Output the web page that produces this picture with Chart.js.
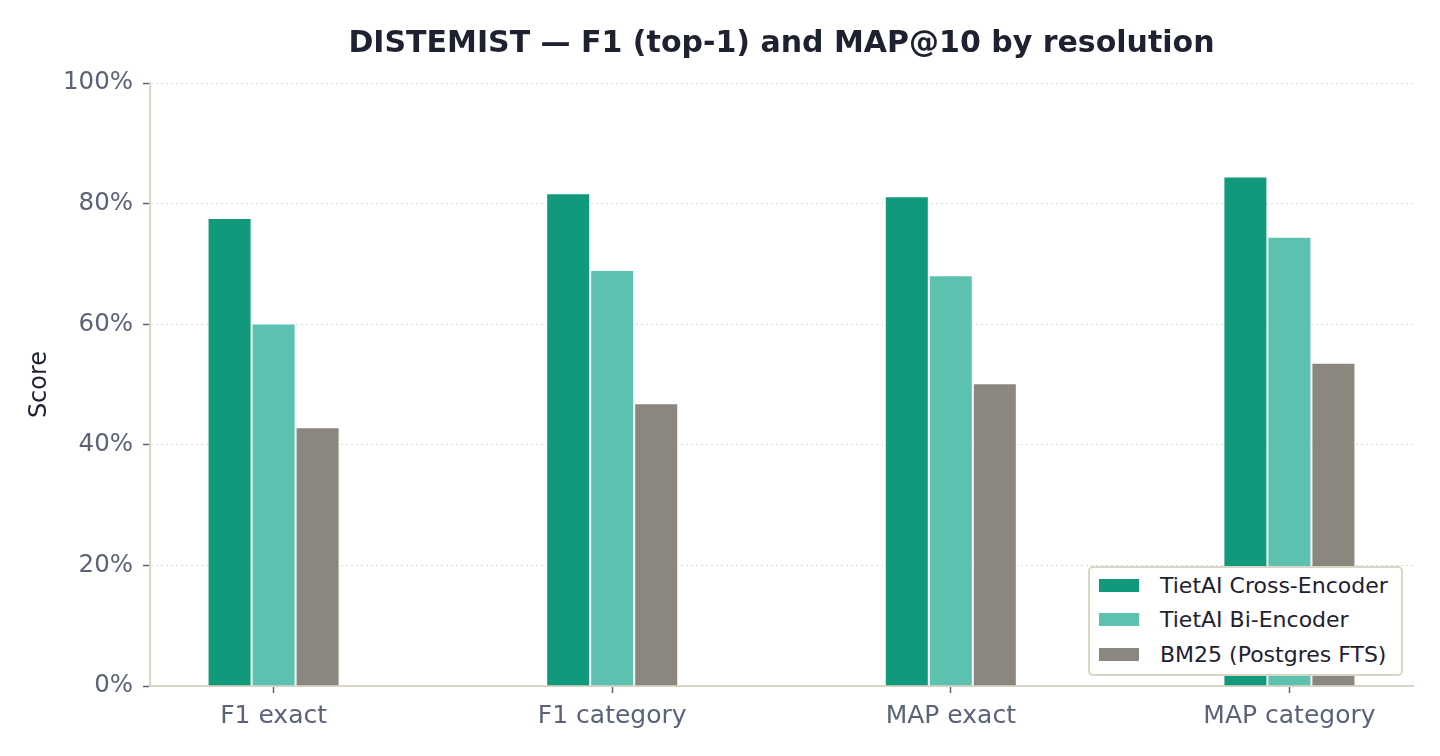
<!DOCTYPE html>
<html>
<head>
<meta charset="utf-8">
<script src="https://cdn.jsdelivr.net/npm/chart.js@4"></script>
<style>
  body { margin: 0; background: #fff; }
  #wrap { position: relative; width: 1440px; height: 756px; }
  #legend {
    position: absolute; left: 1088px; top: 566px; width: 315px; height: 110px;
    border: 2px solid #d9d6c6; border-radius: 5px; background: #fff;
    font-family: 'DejaVu Sans'; font-size: 22px; color: #1e2130;
    box-sizing: border-box; padding-top: 0px;
  }
  #legend .row { display: flex; align-items: center; height: 34.5px; }
  #legend .sw { width: 42px; height: 15px; margin-left: 8px; margin-right: 20px; box-sizing: border-box; border: 1px solid #fff; }
</style>
</head>
<body>
<div id="wrap">
  <canvas id="chart"></canvas>
  <div id="legend"></div>
</div>
<script>
const categories = ['F1 exact', 'F1 category', 'MAP exact', 'MAP category'];
const seriesNames = ['TietAI Cross-Encoder', 'TietAI Bi-Encoder', 'BM25 (Postgres FTS)'];
const crossEncoder = [77.6, 81.7, 81.2, 84.5];
const biEncoder = [60.1, 69.0, 68.1, 74.5];
const bm25 = [42.9, 46.9, 50.2, 53.6];
const yTicks = [0, 20, 40, 60, 80, 100];
const colors = ['#10997a', '#5cc1ae', '#8b867e'];

Chart.defaults.font.family = 'DejaVu Sans';

const toPoints = arr => arr.map((v, i) => ({ x: i, y: v }));
const allSeries = [crossEncoder, biEncoder, bm25];

const ctx = document.getElementById('chart');
new Chart(ctx, {
  type: 'bar',
  data: {
    datasets: allSeries.map((s, i) => ({
      label: seriesNames[i],
      data: toPoints(s),
      backgroundColor: colors[i],
      borderColor: '#ffffff',
      borderWidth: 1,
      categoryPercentage: 0.39,
      barPercentage: 1
    }))
  },
  options: {
    responsive: true,
    maintainAspectRatio: false,
    animation: false,
    layout: { padding: { top: 0, right: 27, left: 25, bottom: 0 } },
    plugins: {
      legend: { display: false },
      tooltip: { enabled: false },
      title: {
        display: true,
        text: 'DISTEMIST — F1 (top-1) and MAP@10 by resolution',
        fullSize: false,
        color: '#1e2130',
        font: { size: 30, weight: 'bold' },
        padding: { top: 26, bottom: 21 }
      }
    },
    scales: {
      x: {
        type: 'linear',
        min: -0.365,
        max: 3.365,
        offset: false,
        afterBuildTicks: scale => { scale.ticks = categories.map((c, i) => ({ value: i })); },
        afterFit: scale => { scale.height = 70; },
        ticks: {
          callback: v => categories[v],
          color: '#5a6378',
          font: { size: 25 },
          padding: 8,
          maxRotation: 0,
          autoSkip: false
        },
        grid: { drawOnChartArea: false, offset: false, tickLength: 7, tickColor: '#5a6378', tickWidth: 1.5 },
        border: { color: '#d9d6c6', width: 2 }
      },
      y: {
        min: 0,
        max: 100,
        afterBuildTicks: scale => { scale.ticks = yTicks.map(v => ({ value: v })); },
        afterFit: scale => { scale.width = 125; },
        ticks: {
          callback: v => v + '%',
          color: '#5a6378',
          font: { size: 24.5 },
          padding: 10
        },
        grid: { color: '#dcdcd4', tickLength: 7, tickColor: '#5a6378', tickWidth: 1.5, tickBorderDash: [] },
        border: { color: '#d9d6c6', width: 2, dash: [2, 3] },
        title: { display: true, text: 'Score', color: '#1e2130', font: { size: 24 }, padding: 0 }
      }
    }
  }
});

const legend = document.getElementById('legend');
seriesNames.forEach((name, i) => {
  const row = document.createElement('div');
  row.className = 'row';
  const sw = document.createElement('div');
  sw.className = 'sw';
  sw.style.background = colors[i];
  const label = document.createElement('span');
  label.textContent = name;
  row.appendChild(sw);
  row.appendChild(label);
  legend.appendChild(row);
});
</script>
</body>
</html>
